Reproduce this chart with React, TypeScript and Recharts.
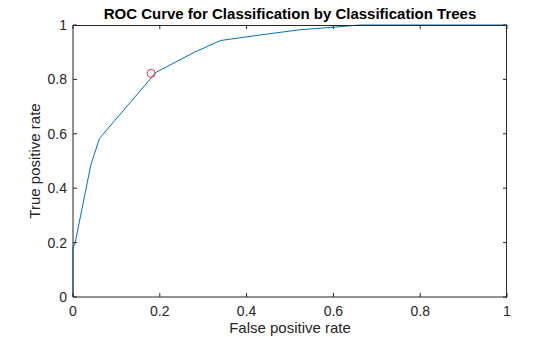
import React from 'react'
import {
  ComposedChart,
  Line,
  Scatter,
  XAxis,
  YAxis,
} from 'recharts'

// ROC curve points
const fprValues = [0, 0, 0.005, 0.041, 0.061, 0.18, 0.19, 0.28, 0.34, 0.43, 0.52, 0.6, 0.66, 1]
const tprValues = [0, 0.18, 0.2, 0.485, 0.583, 0.805, 0.825, 0.9, 0.943, 0.963, 0.982, 0.992, 1, 1]

// optimal operating point
const optFpr = [0.18]
const optTpr = [0.822]

const tickValues = [0, 0.2, 0.4, 0.6, 0.8, 1]

const rocData = fprValues.map((fpr, i) => ({ fpr, tpr: tprValues[i] }))
const optData = optFpr.map((fpr, i) => ({ fpr, tpr: optTpr[i] }))

const W = 560
const H = 337
const M = { top: 25, right: 53, bottom: 40, left: 73 }
const PLOT_TOP = M.top
const PLOT_BOTTOM = H - M.bottom
const PLOT_LEFT = M.left
const PLOT_RIGHT = W - M.right
const AXIS = '#262626'
const FONT = '"Liberation Sans", Arial, Helvetica, sans-serif'
const TICK_LEN = 4

const fmt = (v: number) => String(v)

// bottom tick: inward tick at bottom and top of the box, plus label
const BottomTick = (props: any) => {
  const { x, payload } = props
  return (
    <g>
      <path d={`M${x},${PLOT_BOTTOM}v${-TICK_LEN}M${x},${PLOT_TOP}v${TICK_LEN}`} stroke={AXIS} strokeWidth={1} fill="none" />
      <text x={x} y={PLOT_BOTTOM + 19} textAnchor="middle" fontSize={14} fill={AXIS} fontFamily={FONT}>
        {fmt(payload.value)}
      </text>
    </g>
  )
}

// left tick: inward tick at left and right of the box, plus label
const LeftTick = (props: any) => {
  const { y, payload } = props
  return (
    <g>
      <path d={`M${PLOT_LEFT},${y}h${TICK_LEN}M${PLOT_RIGHT},${y}h${-TICK_LEN}`} stroke={AXIS} strokeWidth={1} fill="none" />
      <text x={PLOT_LEFT - 6} y={y + 5} textAnchor="end" fontSize={14} fill={AXIS} fontFamily={FONT}>
        {fmt(payload.value)}
      </text>
    </g>
  )
}

const OpenCircle = (props: any) => {
  const { cx, cy } = props
  return <circle cx={cx} cy={cy} r={4} fill="none" stroke="#ff0000" strokeWidth={0.8} />
}

export default function App() {
  return (
    <div style={{ position: 'absolute', left: 0, top: 0, width: W, height: H, background: '#fff' }}>
      <ComposedChart width={W} height={H} data={rocData} margin={{ top: M.top, right: M.right, bottom: 0, left: 0 }}>
        <XAxis
          dataKey="fpr"
          type="number"
          domain={[0, 1]}
          ticks={tickValues}
          tickLine={false}
          tick={<BottomTick />}
          axisLine={{ stroke: AXIS }}
          height={M.bottom}
          interval={0}
        />
        <YAxis
          dataKey="tpr"
          type="number"
          domain={[0, 1]}
          ticks={tickValues}
          tickLine={false}
          tick={<LeftTick />}
          axisLine={{ stroke: AXIS }}
          width={M.left}
          interval={0}
        />
        <Line
          dataKey="tpr"
          type="linear"
          stroke="#0072BD"
          strokeWidth={1}
          dot={false}
          isAnimationActive={false}
        />
        <Scatter
          data={optData}
          dataKey="tpr"
          shape={<OpenCircle />}
          isAnimationActive={false}
        />
        <text x={(PLOT_LEFT + PLOT_RIGHT) / 2} y={19} textAnchor="middle" fontSize={15} fontWeight="bold" fill="#000" fontFamily={FONT}>
          ROC Curve for Classification by Classification Trees
        </text>
        <text x={(PLOT_LEFT + PLOT_RIGHT) / 2} y={333} textAnchor="middle" fontSize={15} fill={AXIS} fontFamily={FONT}>
          False positive rate
        </text>
        <text
          x={40}
          y={(PLOT_TOP + PLOT_BOTTOM) / 2}
          textAnchor="middle"
          fontSize={15}
          fill={AXIS}
          fontFamily={FONT}
          transform={`rotate(-90 40 ${(PLOT_TOP + PLOT_BOTTOM) / 2})`}
        >
          True positive rate
        </text>
      </ComposedChart>
      {/* top and right edges of the axes box */}
      <div
        style={{
          position: 'absolute',
          left: PLOT_LEFT,
          top: PLOT_TOP,
          width: PLOT_RIGHT - PLOT_LEFT - 1,
          height: PLOT_BOTTOM - PLOT_TOP,
          borderTop: `1px solid ${AXIS}`,
          borderRight: `1px solid ${AXIS}`,
          pointerEvents: 'none',
        }}
      />
    </div>
  )
}
